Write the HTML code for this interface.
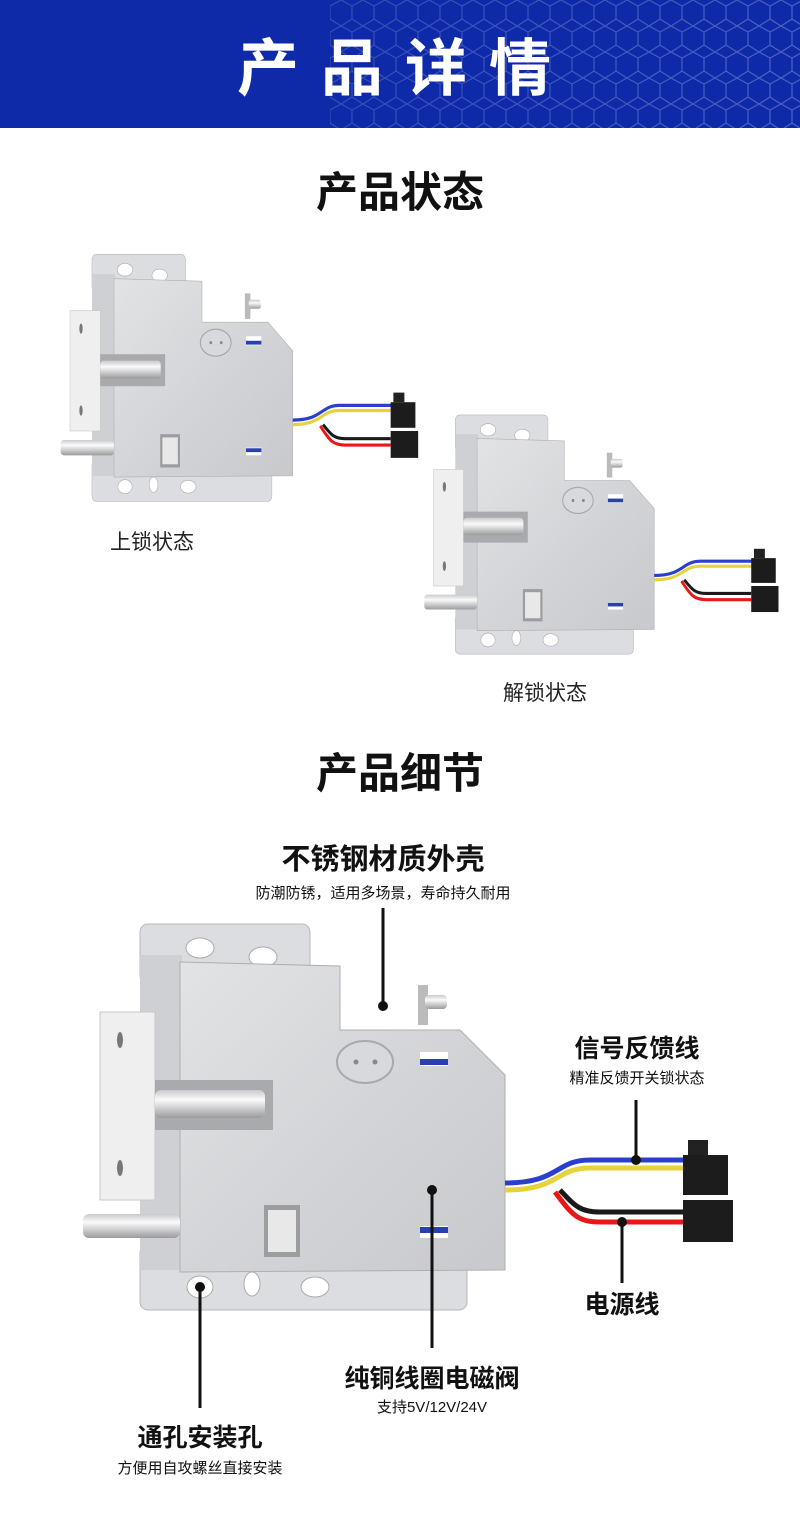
<!DOCTYPE html>
<html><head><meta charset="utf-8"><style>
body{margin:0;width:800px;height:1520px;background:#fff;overflow:hidden;font-family:"Liberation Sans","Noto Sans CJK SC",sans-serif;}
svg{display:block}
</style></head><body>
<svg width="800" height="1520" viewBox="0 0 800 1520" xmlns="http://www.w3.org/2000/svg" font-family="Liberation Sans, Noto Sans CJK SC, sans-serif">
<defs>
<pattern id="hex" width="22" height="26" patternUnits="userSpaceOnUse">
<path d="M11 0 L22 6 L22 19 L11 26 L0 19 L0 6 Z" fill="none" stroke="#8fa0e0" stroke-width="1.2"/>
</pattern>
<linearGradient id="fade" x1="0" x2="1"><stop offset="0" stop-color="#0e2aa8" stop-opacity="1"/><stop offset="0.45" stop-color="#0e2aa8" stop-opacity="0.9"/><stop offset="1" stop-color="#0e2aa8" stop-opacity="0.35"/></linearGradient>
<linearGradient id="metal" x1="0" y1="0" x2="1" y2="1"><stop offset="0" stop-color="#e2e3e5"/><stop offset="0.5" stop-color="#d4d5d8"/><stop offset="1" stop-color="#c8c9cc"/></linearGradient>
<linearGradient id="rod" x1="0" y1="0" x2="0" y2="1"><stop offset="0" stop-color="#c9cacd"/><stop offset="0.35" stop-color="#fafafa"/><stop offset="1" stop-color="#9a9b9e"/></linearGradient>
<g id="lock">
<rect x="140" y="924" width="170" height="60" rx="8" fill="#dcdde0" stroke="#b8b9bc"/>
<rect x="140" y="1245" width="327" height="65" rx="8" fill="#dcdde0" stroke="#b8b9bc"/>
<rect x="140" y="955" width="42" height="315" fill="#cfd0d3"/>
<ellipse cx="200" cy="948" rx="14" ry="10" fill="#fff" stroke="#aaa"/>
<ellipse cx="263" cy="957" rx="14" ry="10" fill="#fff" stroke="#aaa"/>
<ellipse cx="200" cy="1287" rx="13" ry="11" fill="#fff" stroke="#aaa"/>
<ellipse cx="252" cy="1284" rx="8" ry="12" fill="#fff" stroke="#aaa"/>
<ellipse cx="315" cy="1287" rx="14" ry="10" fill="#fff" stroke="#aaa"/>
<polygon points="180,962 340,966 340,1030 460,1030 505,1075 505,1270 180,1272" fill="url(#metal)" stroke="#aeafb2"/>
<rect x="418" y="985" width="10" height="40" fill="#bbb"/>
<rect x="425" y="995" width="22" height="14" rx="4" fill="url(#rod)"/>
<rect x="100" y="1012" width="55" height="188" fill="#efefef" stroke="#c8c8c8"/>
<ellipse cx="120" cy="1040" rx="3" ry="8" fill="#777"/>
<ellipse cx="120" cy="1168" rx="3" ry="8" fill="#777"/>
<rect x="155" y="1080" width="118" height="50" fill="#a9aaad"/>
<rect x="155" y="1090" width="110" height="28" rx="6" fill="url(#rod)"/>
<rect x="83" y="1214" width="97" height="24" rx="6" fill="url(#rod)"/>
<ellipse cx="365" cy="1062" rx="28" ry="21" fill="#d8d9dc" stroke="#a8a9ac" stroke-width="2"/>
<circle cx="356" cy="1062" r="2.5" fill="#888"/><circle cx="375" cy="1062" r="2.5" fill="#888"/>
<rect x="420" y="1052" width="28" height="14" fill="#fff"/><rect x="420" y="1059" width="28" height="6" fill="#2a3fb0"/>
<rect x="420" y="1226" width="28" height="12" fill="#fff"/><rect x="420" y="1227" width="28" height="6" fill="#2a3fb0"/>
<rect x="264" y="1205" width="36" height="52" fill="#9c9da0"/>
<rect x="268" y="1210" width="28" height="42" fill="#e8e8e8"/>
<path d="M505 1183 C560 1183 555 1160 590 1160 L685 1160" stroke="#2a3fd0" stroke-width="5" fill="none"/>
<path d="M505 1190 C560 1190 555 1168 590 1168 L685 1168" stroke="#e6d23a" stroke-width="5" fill="none"/>
<path d="M560 1190 C575 1206 580 1212 600 1212 L683 1212" stroke="#1a1a1a" stroke-width="5" fill="none"/>
<path d="M555 1192 C572 1215 578 1222 600 1222 L683 1222" stroke="#e81818" stroke-width="5" fill="none"/>
<rect x="683" y="1155" width="45" height="40" fill="#1c1c1c"/>
<rect x="688" y="1140" width="20" height="15" fill="#222"/>
<rect x="683" y="1200" width="50" height="42" fill="#1c1c1c"/>
</g>
</defs>

<rect x="0" y="0" width="800" height="128" fill="#0e2aa8"/>
<rect x="330" y="0" width="470" height="128" fill="url(#hex)" opacity="0.6"/>
<rect x="0" y="0" width="800" height="128" fill="url(#fade)" opacity="0.55"/>
<text x="405" y="90" font-size="62" font-weight="bold" fill="#fff" text-anchor="middle" letter-spacing="22">产品详情</text>

<text x="400" y="207" font-size="42" font-weight="bold" fill="#111" text-anchor="middle">产品状态</text>
<use href="#lock" transform="translate(15,-337) scale(0.55,0.64)"/>
<text x="110" y="549" font-size="21" fill="#222">上锁状态</text>
<use href="#lock" transform="translate(379,-158) scale(0.545,0.62)"/>
<text x="503" y="700" font-size="21" fill="#222">解锁状态</text>

<text x="400" y="788" font-size="42" font-weight="bold" fill="#111" text-anchor="middle">产品细节</text>
<use href="#lock"/>

<g fill="#111" text-anchor="middle">
<text x="383" y="869" font-size="29" font-weight="bold">不锈钢材质外壳</text>
<text x="383" y="898" font-size="15">防潮防锈，适用多场景，寿命持久耐用</text>
<text x="637" y="1057" font-size="25" font-weight="bold">信号反馈线</text>
<text x="637" y="1083" font-size="15">精准反馈开关锁状态</text>
<text x="622" y="1313" font-size="25" font-weight="bold">电源线</text>
<text x="432" y="1387" font-size="25" font-weight="bold">纯铜线圈电磁阀</text>
<text x="432" y="1412" font-size="15">支持5V/12V/24V</text>
<text x="200" y="1446" font-size="25" font-weight="bold">通孔安装孔</text>
<text x="200" y="1473" font-size="15">方便用自攻螺丝直接安装</text>
</g>
<g stroke="#111" stroke-width="3">
<line x1="383" y1="908" x2="383" y2="1006"/>
<line x1="636" y1="1100" x2="636" y2="1160"/>
<line x1="622" y1="1222" x2="622" y2="1283"/>
<line x1="432" y1="1190" x2="432" y2="1348"/>
<line x1="200" y1="1287" x2="200" y2="1408"/>
</g>
<g fill="#111">
<circle cx="383" cy="1006" r="5"/><circle cx="636" cy="1160" r="5"/><circle cx="622" cy="1222" r="5"/><circle cx="432" cy="1190" r="5"/><circle cx="200" cy="1287" r="5"/>
</g>
</svg>
</body></html>
